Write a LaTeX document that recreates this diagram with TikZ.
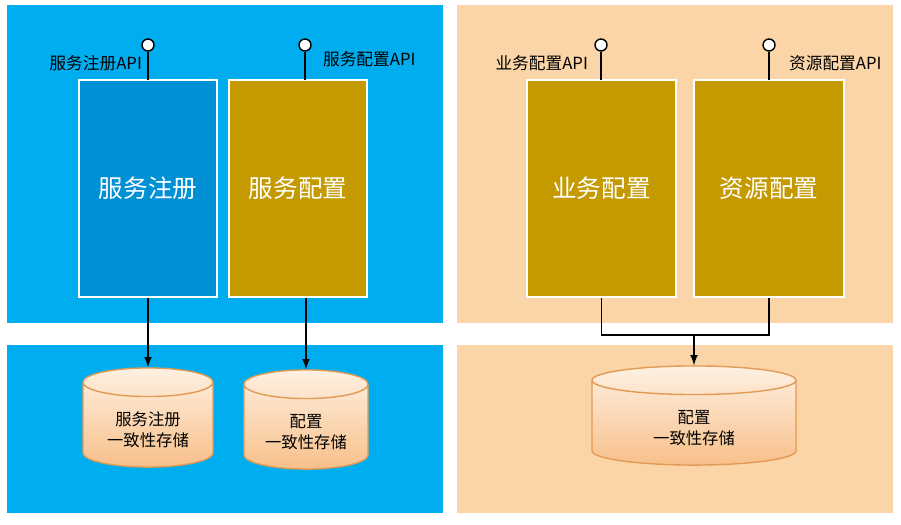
\documentclass[tikz,border=0pt]{standalone}
\usepackage{fontspec}
\setmainfont{Noto Sans CJK SC}
\usetikzlibrary{shapes.geometric}
\definecolor{panelblue}{HTML}{00AEEF}
\definecolor{panelpeach}{HTML}{FBD5A7}
\definecolor{regblue}{HTML}{0090D6}
\definecolor{cfggold}{HTML}{C49A00}
\definecolor{cylline}{HTML}{E39A55}
\definecolor{cyltop}{HTML}{FEF0E2}
\definecolor{cylbot}{HTML}{F8C08A}
\newcommand{\storelabel}[2]{\begin{tabular}{@{}c@{}}\rule{0pt}{16pt}#1\\#2\end{tabular}}
\tikzset{
  svcbox/.style={draw=white, line width=1pt, text=white, font=\fontsize{14}{16}\selectfont, inner sep=0pt},
  pin/.style={draw=black, fill=white, circle, minimum size=12*0.02cm, inner sep=0pt, line width=0.8pt},
  apilabel/.style={font=\fontsize{9.5}{11}\selectfont, inner sep=1pt},
  store/.style={cylinder, shape border rotate=90, aspect=0.35, draw=cylline, line width=0.8pt,
    top color=cyltop, bottom color=cylbot, font=\fontsize{9.3}{12}\selectfont, inner sep=0pt},
  link/.style={line width=1pt, -latex}
}
\begin{document}
\begin{tikzpicture}[x=0.02cm, y=-0.02cm]
  \useasboundingbox (0,0) rectangle (901,524);
  % panels
  \fill[panelblue] (7,5) rectangle (443,323);
  \fill[panelblue] (7,345) rectangle (443,513);
  \fill[panelpeach] (457,5) rectangle (893,323);
  \fill[panelpeach] (457,345) rectangle (893,513);
  % services
  \node[svcbox, fill=regblue, minimum width=138*0.02cm, minimum height=217*0.02cm] (reg) at (148,188.5) {服务注册};
  \node[svcbox, fill=cfggold, minimum width=138*0.02cm, minimum height=217*0.02cm] (svccfg) at (298,188.5) {服务配置};
  \node[svcbox, fill=cfggold, minimum width=149*0.02cm, minimum height=217*0.02cm] (bizcfg) at (601.5,188.5) {业务配置};
  \node[svcbox, fill=cfggold, minimum width=150*0.02cm, minimum height=217*0.02cm] (rescfg) at (769,188.5) {资源配置};
  % api pins
  \node[pin] (regapi) at (148,45) {};
  \node[pin] (svcapi) at (305,45) {};
  \node[pin] (bizapi) at (601,45) {};
  \node[pin] (resapi) at (769,45) {};
  \draw[line width=0.8pt] (regapi) -- (148,80);
  \draw[line width=0.8pt] (svcapi) -- (305,80);
  \draw[line width=0.8pt] (bizapi) -- (601,80);
  \draw[line width=0.8pt] (resapi) -- (769,80);
  \node[apilabel, anchor=east] at (144,63) {服务注册API};
  \node[apilabel, anchor=west] at (321,59) {服务配置API};
  \node[apilabel, anchor=east] at (590,63) {业务配置API};
  \node[apilabel, anchor=west] at (787,63) {资源配置API};
  % stores
  \node[store, minimum width=130*0.02cm, minimum height=97*0.02cm] (regstore) at (148,425) {\storelabel{服务注册}{一致性存储}};
  \node[store, minimum width=124*0.02cm, minimum height=95*0.02cm] (cfgstore) at (306,427) {\storelabel{配置}{一致性存储}};
  \node[store, minimum width=204*0.02cm, minimum height=94*0.02cm] (bizstore) at (694,423) {\storelabel{配置}{一致性存储}};
  % links
  \draw[link] (reg.south) -- (regstore.top);
  \draw[link] (svccfg.south -| cfgstore.top) -- (cfgstore.top);
  \coordinate (join) at (694,335);
  \draw[line width=1pt] (bizcfg.south) |- (join) -| (rescfg.south);
  \draw[link] (join) -- (bizstore.top);
\end{tikzpicture}
\end{document}
